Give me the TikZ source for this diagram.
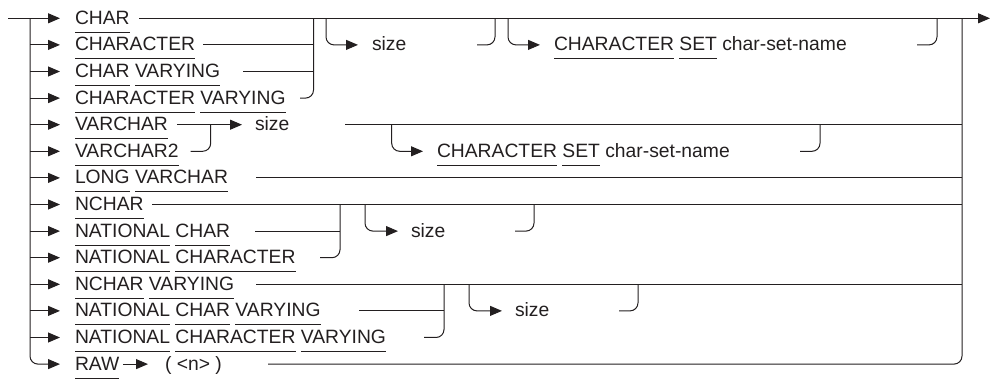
\documentclass[tikz,border=0pt]{standalone}
\usepackage{fontspec}
\setmainfont{Liberation Sans}
\usetikzlibrary{arrows.meta}
\definecolor{ink}{HTML}{231F20}
\newcommand\kwd[1]{\setbox0\hbox{#1}\rlap{\rule[-8.6pt]{\wd0}{1pt}}\box0\relax}
\tikzset{
  rr/.style={line width=1pt, draw=ink},
  arr/.style={rr, -{Triangle[length=12pt,width=10pt]}},
  rc/.style={rr, rounded corners=8pt},
  rca/.style={arr, rounded corners=8pt},
  lbl/.style={anchor=base west, inner sep=0pt, outer sep=0pt, text=ink,
    font=\fontsize{19.3pt}{22pt}\selectfont},
}
\begin{document}
\begin{tikzpicture}[x=1pt,y=-1pt]
\useasboundingbox (0,0) rectangle (991,379);
% row y positions
\def\ya{18.3}\def\yb{44.9}\def\yc{71.5}\def\yd{98.1}\def\ye{124.7}
\def\yf{151.3}\def\yg{177.9}\def\yh{204.5}\def\yi{231.1}\def\yj{257.7}
\def\yk{284.3}\def\yl{310.9}\def\ym{337.5}\def\yn{364.1}
% trunk coordinates
\coordinate (start) at (8,\ya);
\coordinate (tr0) at (30,\ya);
\coordinate (trend) at (30,\yn);
% keyword labels
\node[lbl] (k0)  at (75,\ya+6) {\kwd{CHAR}};
\node[lbl] (k1)  at (75,\yb+6) {\kwd{CHARACTER}};
\node[lbl] (k2)  at (75,\yc+6) {\kwd{CHAR} \kwd{VARYING}};
\node[lbl] (k3)  at (75,\yd+6) {\kwd{CHARACTER} \kwd{VARYING}};
\node[lbl] (k4)  at (75,\ye+6) {\kwd{VARCHAR}};
\node[lbl] (k5)  at (75,\yf+6) {\kwd{VARCHAR2}};
\node[lbl] (k6)  at (75,\yg+6) {\kwd{LONG} \kwd{VARCHAR}};
\node[lbl] (k7)  at (75,\yh+6) {\kwd{NCHAR}};
\node[lbl] (k8)  at (75,\yi+6) {\kwd{NATIONAL} \kwd{CHAR}};
\node[lbl] (k9)  at (75,\yj+6) {\kwd{NATIONAL} \kwd{CHARACTER}};
\node[lbl] (k10) at (75,\yk+6) {\kwd{NCHAR} \kwd{VARYING}};
\node[lbl] (k11) at (75,\yl+6) {\kwd{NATIONAL} \kwd{CHAR} \kwd{VARYING}};
\node[lbl] (k12) at (75,\ym+6) {\kwd{NATIONAL} \kwd{CHARACTER} \kwd{VARYING}};
\node[lbl] (k13) at (75,\yn+6) {\kwd{RAW}};
\node[lbl] (n13) at (165,\yn+6) {( <n> )};
% other labels
\node[lbl] (s1) at (372,\yb+6) {size};
\node[lbl] (cs1) at (554,\yb+6) {\kwd{CHARACTER} \kwd{SET} char-set-name};
\node[lbl] (s2) at (255,\ye+6) {size};
\node[lbl] (cs2) at (437,\yf+6) {\kwd{CHARACTER} \kwd{SET} char-set-name};
\node[lbl] (s3) at (411,\yi+6) {size};
\node[lbl] (s4) at (515,\yl+6) {size};

% trunk and entry arrows
\draw[arr] (start) -- (60,\ya);
\draw[rca] (tr0) |- (60,\yn);
\foreach \y in {\yb,\yc,\yd,\ye,\yf,\yg,\yh,\yi,\yj,\yk,\yl,\ym}
  \draw[arr] (30,\y) -- (60,\y);

% main top line and right side
\coordinate (out) at (990,\ya);
\coordinate (rt) at (962,\ya);
\draw[arr] (139,\ya) -- (out);
\draw[rc] (rt) |- (268,\yn);

% CHAR group bracket
\draw[rc] (313.5,\ya) |- (300,\yd);
\draw[rr] (203,\yb) -- (313.5,\yb);
\draw[rr] (243,\yc) -- (313.5,\yc);
% optional size (top)
\draw[rca] (326,\ya) |- (358,\yb);
\draw[rc] (477,\yb) -| (495,\ya);
% optional CHARACTER SET (top)
\draw[rca] (508,\ya) |- (540,\yb);
\draw[rc] (917,\yb) -| (937,\ya);

% VARCHAR row
\draw[arr] (177,\ye) -- (242,\ye);
\draw[rc] (190.7,\yf) -| (210.7,\ye);
\draw[rr] (345,\ye) -- (962,\ye);
\draw[rca] (391.7,\ye) |- (423,\yf);
\draw[rc] (800,\yf) -| (820,\ye);

% LONG VARCHAR, NCHAR
\draw[rr] (256,\yg) -- (962,\yg);
\draw[rr] (152,\yh) -- (962,\yh);
% NATIONAL CHAR group
\draw[rr] (255,\yi) -- (340,\yi);
\draw[rc] (340,\yh) |- (320,\yj);
\draw[rca] (365,\yh) |- (398,\yi);
\draw[rc] (515,\yi) -| (534,\yh);

% NCHAR VARYING group
\draw[rr] (256,\yk) -- (962,\yk);
\draw[rr] (359,\yl) -- (444,\yl);
\draw[rc] (444,\yk) |- (424,\ym);
\draw[rca] (469,\yk) |- (502,\yl);
\draw[rc] (619,\yl) -| (638,\yk);

% RAW row
\draw[arr] (123,\yn) -- (148,\yn);
\end{tikzpicture}
\end{document}
